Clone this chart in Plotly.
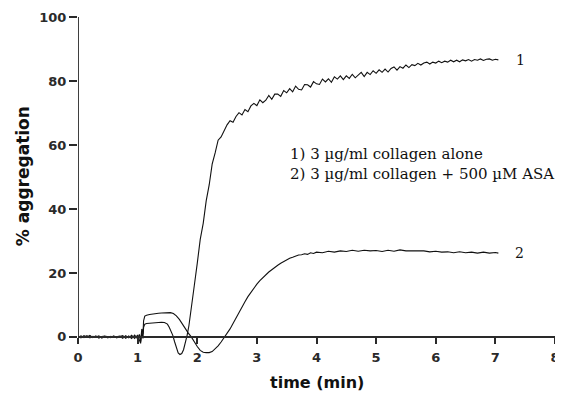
import plotly.graph_objects as go

# Curve 1: 3 µg/ml collagen alone
t1 = [0.00, 0.05, 0.10, 0.15, 0.20, 0.25, 0.30, 0.35, 0.40, 0.45,
      0.50, 0.55, 0.60, 0.65, 0.70, 0.75, 0.80, 0.85, 0.90, 0.95,
      1.00, 1.03, 1.05, 1.07, 1.09, 1.10, 1.12, 1.15, 1.20, 1.25,
      1.30, 1.35, 1.40, 1.45, 1.50, 1.53, 1.56, 1.59, 1.62, 1.65,
      1.68, 1.71, 1.74, 1.77, 1.80, 1.83, 1.86, 1.90, 1.95, 2.00,
      2.05, 2.10, 2.15, 2.20, 2.25, 2.30, 2.35, 2.40, 2.45, 2.50,
      2.55, 2.60, 2.65, 2.70, 2.75, 2.80, 2.85, 2.90, 2.95, 3.00,
      3.05, 3.10, 3.15, 3.20, 3.25, 3.30, 3.35, 3.40, 3.45, 3.50,
      3.55, 3.60, 3.65, 3.70, 3.75, 3.80, 3.85, 3.90, 3.95, 4.00,
      4.05, 4.10, 4.15, 4.20, 4.25, 4.30, 4.35, 4.40, 4.45, 4.50,
      4.55, 4.60, 4.65, 4.70, 4.75, 4.80, 4.85, 4.90, 4.95, 5.00,
      5.05, 5.10, 5.15, 5.20, 5.25, 5.30, 5.35, 5.40, 5.45, 5.50,
      5.55, 5.60, 5.65, 5.70, 5.75, 5.80, 5.85, 5.90, 5.95, 6.00,
      6.05, 6.10, 6.15, 6.20, 6.25, 6.30, 6.35, 6.40, 6.45, 6.50,
      6.55, 6.60, 6.65, 6.70, 6.75, 6.80, 6.85, 6.90, 6.95, 7.00,
      7.05]
agg1 = [0.2, -0.3, 0.4, 0.0, 0.5, -0.2, 0.3, -0.4, 0.1, 0.3,
        -0.3, 0.2, -0.1, 0.0, 0.3, -0.4, 0.4, -0.3, 0.5, -0.5,
        0.6, -1.0, -2.0, 1.5, -0.5, 3.0, 4.0, 4.2, 4.3, 4.4,
        4.5, 4.6, 4.6, 4.5, 4.0, 3.0, 1.8, 0.5, -1.5, -3.5,
        -5.0, -5.5, -5.2, -4.0, -2.0, 0.5, 3.5, 8.5, 16.0, 23.0,
        30.5, 35.5, 42.5, 47.5, 54.0, 57.5, 61.5, 62.5, 64.5, 66.3,
        67.6, 67.1, 68.9, 70.1, 69.4, 71.1, 70.4, 72.2, 73.0, 72.3,
        74.1, 73.2, 74.0, 75.5, 74.3, 75.9, 75.9, 75.2, 77.0, 76.3,
        77.6, 76.6, 78.4, 77.4, 77.2, 78.9, 78.8, 78.1, 79.8, 79.1,
        78.9, 80.6, 79.7, 80.7, 79.6, 81.3, 80.6, 81.6, 80.4, 81.6,
        80.8, 82.1, 81.0, 82.0, 82.7, 81.4, 82.7, 82.0, 83.2, 82.4,
        83.5, 82.7, 83.7, 82.8, 83.9, 84.4, 83.4, 84.5, 84.0, 85.0,
        84.2, 85.1, 84.8, 85.5, 85.0, 85.6, 85.9, 85.3, 85.9, 85.6,
        86.2, 85.7, 86.2, 85.9, 86.5, 86.0, 86.5, 86.0, 86.6, 86.3,
        86.7, 86.2, 86.7, 86.5, 86.9, 86.4, 86.8, 86.9, 86.5, 86.8,
        86.6]

# Curve 2: 3 µg/ml collagen + 500 µM ASA
t2 = [0.00, 0.05, 0.10, 0.15, 0.20, 0.25, 0.30, 0.35, 0.40, 0.45, 0.50, 0.55, 0.60, 0.65, 0.70,
      0.75, 0.80, 0.85, 0.90, 0.95, 1.00, 1.03, 1.05, 1.07, 1.09,
      1.10, 1.12, 1.15, 1.20, 1.25, 1.30, 1.35, 1.40, 1.45, 1.50, 1.55, 1.60, 1.65, 1.70, 1.75,
      1.80, 1.85, 1.90, 1.95, 2.00, 2.05, 2.10, 2.15, 2.20, 2.25, 2.30, 2.35, 2.40, 2.45, 2.50,
      2.55, 2.60, 2.65, 2.70, 2.75, 2.80, 2.85, 2.90, 2.95, 3.00, 3.05, 3.10, 3.15, 3.20, 3.25,
      3.30, 3.35, 3.40, 3.45, 3.50, 3.55, 3.60, 3.65, 3.70, 3.75, 3.80, 3.85, 3.90, 3.95, 4.00,
      4.10, 4.20, 4.30, 4.40, 4.50, 4.60, 4.70, 4.80, 4.90, 5.00, 5.10, 5.20, 5.30, 5.40, 5.50,
      5.60, 5.70, 5.80, 5.90, 6.00, 6.10, 6.20, 6.30, 6.40, 6.50, 6.60, 6.70, 6.80, 6.90, 7.00,
      7.05]
agg2 = [-0.1, 0.3, -0.2, 0.4, -0.3, 0.2, 0.0, 0.3, -0.4, 0.2, 0.1, -0.2, 0.3, -0.3, 0.1,
        0.4, -0.4, 0.3, -0.5, 0.6, -0.6, 0.8, -1.5, 2.5, 1.0,
        5.0, 6.5, 6.8, 7.0, 7.2, 7.3, 7.4, 7.5, 7.6, 7.7, 7.6, 7.3, 6.6, 5.5, 4.0,
        2.6, 1.2, 0.0, -1.6, -3.0, -4.2, -4.8, -4.9, -4.9, -4.6, -3.8, -2.8, -1.6, -0.3, 1.0,
        2.5, 4.2, 6.0, 7.8, 9.5, 11.0, 12.6, 14.0, 15.3, 16.5, 17.6, 18.6, 19.5, 20.3, 21.0,
        21.8, 22.4, 23.0, 23.6, 24.0, 24.6, 24.9, 25.3, 25.6, 25.7, 26.0, 25.8, 26.3, 26.1, 26.5,
        26.3, 26.8, 26.5, 26.9, 26.7, 27.1, 26.8, 27.1, 26.9, 27.0, 26.7, 27.1, 26.8, 27.2, 26.9,
        26.9, 26.7, 26.9, 26.6, 26.8, 26.5, 26.6, 26.3, 26.6, 26.3, 26.5, 26.2, 26.5, 26.2, 26.4,
        26.2]

x_ticks = [0, 1, 2, 3, 4, 5, 6, 7, 8]
y_ticks = [0, 20, 40, 60, 80, 100]
curve_labels = ["1", "2"]
legend_text = ["1) 3 µg/ml collagen alone", "2) 3 µg/ml collagen + 500 µM ASA"]

Y_MIN, Y_MAX = -6.9, 100
axis_color = "#2a2a2a"
tick_font = dict(family="DejaVu Sans", size=13, color="#2a2a2a")
serif = "DejaVu Serif"

fig = go.Figure()
fig.add_trace(go.Scatter(x=t1, y=agg1, mode="lines",
                         line=dict(color="#111", width=1.1), showlegend=False))
fig.add_trace(go.Scatter(x=t2, y=agg2, mode="lines",
                         line=dict(color="#111", width=1.1), showlegend=False))

# y axis line from 0 to 100
fig.add_shape(type="line", xref="x", yref="y", x0=0, x1=0, y0=0, y1=100,
              line=dict(color=axis_color, width=1.8))

# curve end labels
fig.add_annotation(x=t1[-1], y=agg1[-1], text=curve_labels[0], showarrow=False,
                   xanchor="left", xshift=16, yshift=0,
                   font=dict(family=serif, size=14, color="#111"))
fig.add_annotation(x=t2[-1], y=agg2[-1], text=curve_labels[1], showarrow=False,
                   xanchor="left", xshift=15, yshift=0,
                   font=dict(family=serif, size=14, color="#111"))

# legend text
fig.add_annotation(x=3.53, y=54, xref="x", yref="y", text="<br>".join(legend_text),
                   showarrow=False, xanchor="left", yanchor="middle", align="left",
                   font=dict(family=serif, size=15, color="#111"))

# axis titles
fig.add_annotation(x=4, y=0, xref="x", yref="paper", text="<b>time (min)</b>",
                   showarrow=False, xanchor="center", yanchor="middle", yshift=-23,
                   font=dict(family="DejaVu Sans", size=16, color="#111"))
fig.add_annotation(x=-0.115, y=0.535, xref="paper", yref="paper",
                   text="<b>% aggregation</b>", textangle=-90, showarrow=False,
                   xanchor="center", yanchor="middle",
                   font=dict(family="DejaVu Sans", size=17, color="#111"))

fig.update_layout(
    width=555, height=386,
    margin=dict(l=70, r=8, t=9, b=35, autoexpand=False),
    paper_bgcolor="white", plot_bgcolor="white",
    xaxis=dict(range=[0, 8], tickvals=x_ticks, ticktext=[f"<b>{v}</b>" for v in x_ticks],
               showgrid=False, zeroline=False, showline=True, linecolor=axis_color, linewidth=1.8,
               ticks="outside", ticklen=6, tickwidth=1.8, tickcolor=axis_color,
               tickfont=tick_font, anchor="free", automargin=False, ticklabelstandoff=3,
               ticklabeloverflow="allow",
               position=(0 - Y_MIN) / (Y_MAX - Y_MIN)),
    yaxis=dict(range=[Y_MIN, Y_MAX], tickvals=y_ticks, ticktext=[f"<b>{v}</b>" for v in y_ticks],
               showgrid=False, zeroline=False, showline=False, automargin=False,
               ticks="outside", ticklen=8, tickwidth=1.8, tickcolor=axis_color,
               tickfont=tick_font),
)

fig.write_html("out.html")
